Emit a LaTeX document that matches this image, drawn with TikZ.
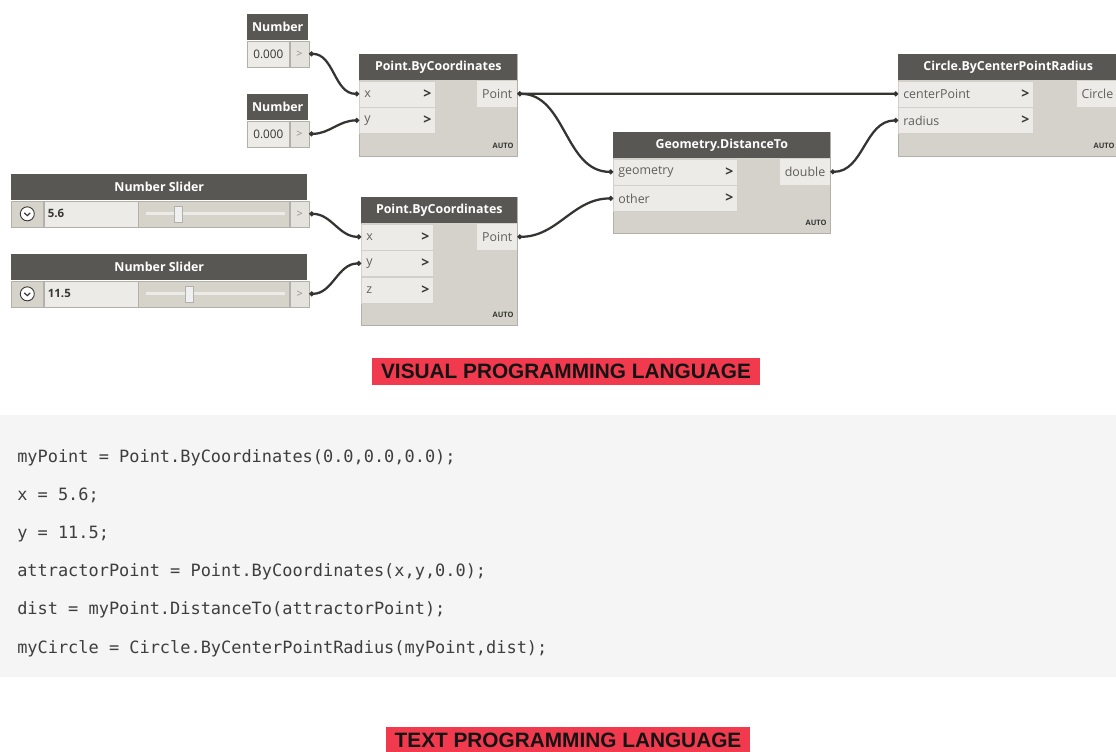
\documentclass[tikz,border=0pt]{standalone}
\usepackage{fontspec}
\newfontfamily\dynfont{Open Sans}
\newfontfamily\codefont{DejaVu Sans Mono}
\newfontfamily\tagfont{Liberation Sans}
\usetikzlibrary{arrows.meta,positioning,calc}
\newdimen\dpx \dpx=0.75pt

\definecolor{hdrgray}{RGB}{88,87,83}
\definecolor{bodygray}{RGB}{212,210,203}
\definecolor{rowgray}{RGB}{236,235,232}
\definecolor{edgegray}{RGB}{178,176,169}
\definecolor{porttext}{RGB}{95,95,92}
\definecolor{chevgray}{RGB}{55,55,52}
\definecolor{pcellgray}{RGB}{228,226,221}
\definecolor{trackgray}{RGB}{214,211,203}
\definecolor{wiregray}{RGB}{52,52,50}
\definecolor{codebg}{RGB}{245,245,245}
\definecolor{codetext}{RGB}{62,62,62}
\definecolor{tagred}{RGB}{241,58,78}

\tikzset{
	hdr/.style={
		rectangle, anchor=north west, inner sep=0, minimum height=26\dpx,
		fill=hdrgray, text=white, font=\dynfont\bfseries\fontsize{9.3}{11}\selectfont
	},
	%
	bodybox/.style={
		rectangle, anchor=north west, inner sep=0,
		fill=bodygray, draw=edgegray, line width=0.8\dpx
	},
	%
	chev/.style={
		anchor=east, xshift=-4\dpx, inner sep=0, text=chevgray,
		font=\dynfont\bfseries\fontsize{10.5}{12}\selectfont
	},
	%
	inrow/.style={
		rectangle, anchor=north west, inner xsep=5\dpx, inner ysep=0,
		minimum height=26\dpx, text width=#1, align=left,
		fill=rowgray, draw=edgegray!60, line width=0.6\dpx, text=porttext,
		font=\dynfont\fontsize{9.3}{11}\selectfont, label={[chev]east:>}
	},
	%
	outrow/.style={
		rectangle, anchor=north east, inner xsep=5\dpx, inner ysep=0,
		minimum height=26\dpx, fill=rowgray, text=porttext,
		font=\dynfont\fontsize{9.3}{11}\selectfont
	},
	%
	autotag/.style={
		anchor=east, inner sep=0, text=chevgray,
		font=\dynfont\bfseries\fontsize{5.6}{6}\selectfont
	},
	%
	valbox/.style={
		rectangle, anchor=north west, inner sep=0, minimum height=26\dpx,
		fill=rowgray, draw=edgegray, line width=0.6\dpx, text=chevgray,
		font=\dynfont\fontsize{8.8}{10}\selectfont
	},
	%
	pcell/.style={
		rectangle, anchor=north west, inner sep=0, minimum height=26\dpx,
		fill=pcellgray, draw=edgegray, line width=0.6\dpx, text=black!45,
		font=\dynfont\fontsize{8}{9}\selectfont
	},
	%
	trackcell/.style={
		rectangle, anchor=north west, inner sep=0, minimum height=26\dpx,
		fill=trackgray, draw=edgegray, line width=0.6\dpx
	},
	%
	thumb/.style={
		rectangle, inner sep=0, minimum width=8\dpx, minimum height=16\dpx,
		fill=white!94!black, draw=edgegray, line width=0.6\dpx
	},
	%
	wire/.style={
		draw=wiregray, line width=1.7pt, {Circle[length=3.4pt]}-{Circle[length=3.4pt]}
	},
	%
	codeline/.style={
		anchor=base west, inner sep=0, text=codetext,
		font=\codefont\fontsize{12.7}{14}\selectfont
	},
	%
	tagbox/.style={
		rectangle, inner xsep=9\dpx, inner ysep=0, minimum height=27\dpx,
		fill=tagred, text=black!92, font=\tagfont\bfseries\fontsize{15.6}{18}\selectfont
	}
}

\begin{document}
\begin{tikzpicture}[x=0.75pt,y=-0.75pt]
    \useasboundingbox (0,0) rectangle (1116,751);
    % number inputs
    \node(numAh)[hdr, minimum width=61\dpx] at (247,14) {Number};
    \node(numAv)[valbox, minimum width=42\dpx] at (numAh.south west) {0.000};
    \node(numAp)[pcell, minimum width=19\dpx] at (numAv.north east) {>};
    \node(numBh)[hdr, minimum width=61\dpx] at (247,94) {Number};
    \node(numBv)[valbox, minimum width=42\dpx] at (numBh.south west) {0.000};
    \node(numBp)[pcell, minimum width=19\dpx] at (numBv.north east) {>};
    % sliders
    \node(sldAh)[hdr, minimum width=296\dpx] at (11,174) {Number Slider};
    \node(sldAi)[trackcell, minimum width=32\dpx] at (sldAh.south west) {};
    \node(sldAic)[circle, draw=chevgray, fill=white, line width=0.9\dpx, minimum size=14\dpx, inner sep=0] at (sldAi.center) {};
    \draw[chevgray, line width=1.2\dpx] ($(sldAic.center)+(-3,-1)$) -- ($(sldAic.center)+(0,1.8)$) -- ($(sldAic.center)+(3,-1)$);
    \node(sldAv)[valbox, minimum width=94\dpx, text width=86\dpx, inner xsep=4\dpx, align=left, font=\dynfont\bfseries\fontsize{8.6}{10}\selectfont] at (sldAi.north east) {5.6};
    \node(sldAt)[trackcell, minimum width=151\dpx] at (sldAv.north east) {};
    \draw[rowgray, line width=3\dpx] ($(sldAt.west)+(8,0)$) -- ($(sldAt.east)+(-5,0)$);
    \node(sldAk)[thumb] at ($(sldAt.west)+(40,0)$) {};
    \node(sldAp)[pcell, minimum width=19\dpx] at (sldAt.north east) {>};
    \node(sldBh)[hdr, minimum width=296\dpx] at (11,254) {Number Slider};
    \node(sldBi)[trackcell, minimum width=32\dpx] at (sldBh.south west) {};
    \node(sldBic)[circle, draw=chevgray, fill=white, line width=0.9\dpx, minimum size=14\dpx, inner sep=0] at (sldBi.center) {};
    \draw[chevgray, line width=1.2\dpx] ($(sldBic.center)+(-3,-1)$) -- ($(sldBic.center)+(0,1.8)$) -- ($(sldBic.center)+(3,-1)$);
    \node(sldBv)[valbox, minimum width=94\dpx, text width=86\dpx, inner xsep=4\dpx, align=left, font=\dynfont\bfseries\fontsize{8.6}{10}\selectfont] at (sldBi.north east) {11.5};
    \node(sldBt)[trackcell, minimum width=151\dpx] at (sldBv.north east) {};
    \draw[rowgray, line width=3\dpx] ($(sldBt.west)+(8,0)$) -- ($(sldBt.east)+(-5,0)$);
    \node(sldBk)[thumb] at ($(sldBt.west)+(51,0)$) {};
    \node(sldBp)[pcell, minimum width=19\dpx] at (sldBt.north east) {>};
    % Point.ByCoordinates (my point)
    \node(pbcA)[bodybox, minimum width=158\dpx, minimum height=102\dpx] at (359,54) {};
    \node(pbcAh)[hdr, minimum width=158\dpx] at (pbcA.north west) {Point.ByCoordinates};
    \node(pbcAx)[inrow=66\dpx] at (pbcAh.south west) {x};
    \node(pbcAy)[inrow=66\dpx] at (pbcAx.south west) {y};
    \node(pbcAout)[outrow] at (pbcAh.south east) {Point};
    \node(pbcAauto)[autotag] at ($(pbcA.south east)+(-4,-11)$) {AUTO};
    % Point.ByCoordinates (attractor)
    \node(pbcB)[bodybox, minimum width=156\dpx, minimum height=128\dpx] at (361,197) {};
    \node(pbcBh)[hdr, minimum width=156\dpx] at (pbcB.north west) {Point.ByCoordinates};
    \node(pbcBx)[inrow=62\dpx] at (pbcBh.south west) {x};
    \node(pbcBy)[inrow=62\dpx] at (pbcBx.south west) {y};
    \node(pbcBz)[inrow=62\dpx] at (pbcBy.south west) {z};
    \node(pbcBout)[outrow] at (pbcBh.south east) {Point};
    \node(pbcBauto)[autotag] at ($(pbcB.south east)+(-4,-11)$) {AUTO};
    % Geometry.DistanceTo
    \node(geo)[bodybox, minimum width=217\dpx, minimum height=101\dpx] at (613,132) {};
    \node(geoh)[hdr, minimum width=217\dpx] at (geo.north west) {Geometry.DistanceTo};
    \node(geoG)[inrow=114\dpx] at (geoh.south west) {geometry};
    \node(geoO)[inrow=114\dpx] at (geoG.south west) {other};
    \node(geoOut)[outrow] at (geoh.south east) {double};
    \node(geoauto)[autotag] at ($(geo.south east)+(-4,-11)$) {AUTO};
    % Circle.ByCenterPointRadius
    \node(circ)[bodybox, minimum width=220\dpx, minimum height=102\dpx] at (898,54) {};
    \node(circh)[hdr, minimum width=220\dpx] at (circ.north west) {Circle.ByCenterPointRadius};
    \node(circC)[inrow=125\dpx] at (circh.south west) {centerPoint};
    \node(circR)[inrow=125\dpx] at (circC.south west) {radius};
    \node(circOut)[outrow] at (circh.south east) {Circle};
    \node(circauto)[autotag] at ($(circ.south east)+(-4,-11)$) {AUTO};
    % wires
    \draw[wire] (numAp.east) to[out=0,in=180] (pbcAx.west);
    \draw[wire] (numBp.east) to[out=0,in=180] (pbcAy.west);
    \draw[wire] (sldAp.east) to[out=0,in=180] (pbcBx.west);
    \draw[wire] (sldBp.east) to[out=0,in=180] (pbcBy.west);
    \draw[wire] (pbcAout.east) -- (circC.west);
    \draw[wire] (pbcAout.east) to[out=0,in=180] (geoG.west);
    \draw[wire] (pbcBout.east) to[out=0,in=180] (geoO.west);
    \draw[wire] (geoOut.east) to[out=0,in=180] (circR.west);
    \node(vplTag)[tagbox] at (566,371.5) {VISUAL PROGRAMMING LANGUAGE};
    % code
    \node(codebg)[rectangle, anchor=north west, inner sep=0, fill=codebg, minimum width=1116\dpx, minimum height=262\dpx] at (0,415) {};
    \foreach \ln [count=\i] in {
        {myPoint = Point.ByCoordinates(0.0,0.0,0.0);},
        {x = 5.6;},
        {y = 11.5;},
        {attractorPoint = Point.ByCoordinates(x,y,0.0);},
        {dist = myPoint.DistanceTo(attractorPoint);},
        {myCircle = Circle.ByCenterPointRadius(myPoint,dist);}}
        \node(code\i)[codeline] at (17,{462+(\i-1)*38.2}) {\ln};
    \node(tplTag)[tagbox] at (568,740) {TEXT PROGRAMMING LANGUAGE};
\end{tikzpicture}
\end{document}
